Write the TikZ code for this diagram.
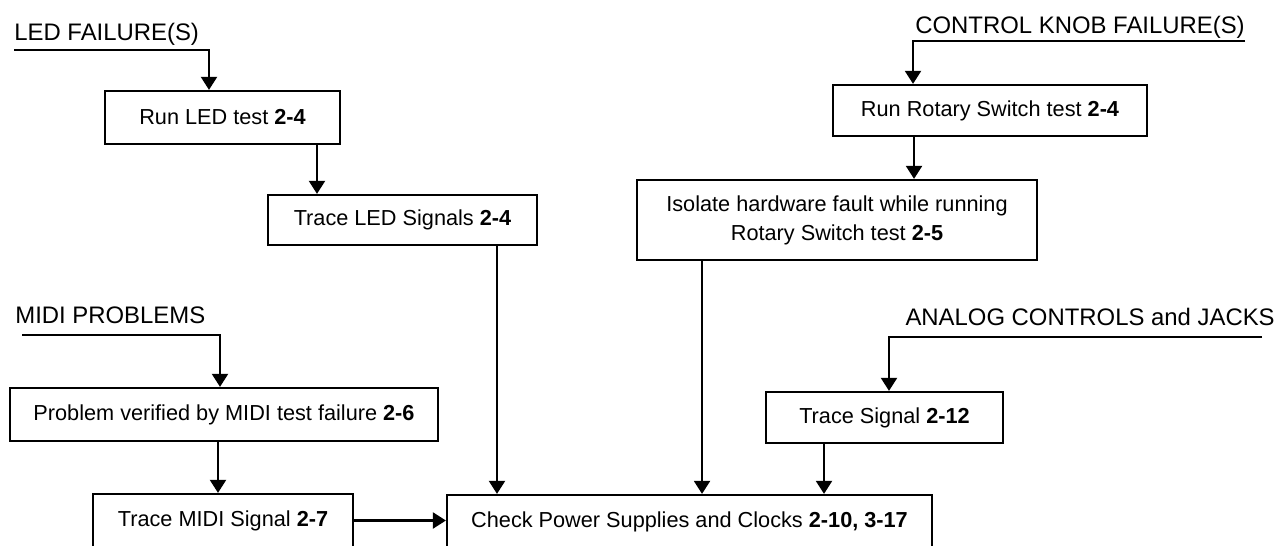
\documentclass[tikz,border=0pt]{standalone}
\usepackage{fontspec}
\setmainfont{Liberation Sans}
\usetikzlibrary{arrows.meta}
\begin{document}
\begin{tikzpicture}[x=0.02cm,y=-0.02cm,
  box/.style={draw,line width=1.3pt,inner sep=0pt,font=\fontsize{12.35}{16.5}\selectfont,align=center},
  head/.style={inner sep=0pt,font=\fontsize{13.6}{16}\selectfont},
  arr/.style={line width=1.2pt,-{Triangle[width=0.32cm,length=0.26cm]}},
  lin/.style={line width=1.2pt}]
\useasboundingbox (0,0) rectangle (1283,545);
\clip (0,0) rectangle (1283,545);

% headings
\node[head,anchor=base west] (ledt) at (14,40) {LED FAILURE(S)};
\node[head,anchor=base east] (ctrlt) at (1245,33) {CONTROL KNOB FAILURE(S)};
\node[head,anchor=base west] (midit) at (15,323) {MIDI PROBLEMS};
\node[head,anchor=base east] (anat) at (1275,325) {ANALOG CONTROLS and JACKS};

\coordinate (ledl) at (14,50);
\coordinate (ctrlr) at (1245,41);
\coordinate (midil) at (22,335);
\coordinate (anar) at (1262,337);

% boxes
\node[box,minimum width=4.7cm,minimum height=1.06cm] (runled) at (222.5,117.5) {Run LED test \textbf{2-4}};
\node[box,minimum width=5.38cm,minimum height=1.0cm] (traceled) at (402.5,220) {Trace LED Signals \textbf{2-4}};
\node[box,minimum width=6.28cm,minimum height=1.02cm] (runrot) at (990,110.5) {Run Rotary Switch test \textbf{2-4}};
\node[box,minimum width=8.0cm,minimum height=1.6cm] (isolate) at (837,220) {Isolate hardware fault while running\\Rotary Switch test \textbf{2-5}};
\node[box,minimum width=8.56cm,minimum height=1.06cm] (problem) at (224,414.5) {Problem verified by MIDI test failure \textbf{2-6}};
\node[box,minimum width=5.2cm,minimum height=1.06cm] (tracemidi) at (223,520.5) {Trace MIDI Signal \textbf{2-7}};
\node[box,minimum width=4.74cm,minimum height=1.02cm] (tracesig) at (884.5,417.5) {Trace Signal \textbf{2-12}};
\node[box,minimum width=9.7cm,minimum height=1.06cm] (check) at (689.5,521.5) {Check Power Supplies and Clocks \textbf{2-10, 3-17}};

% connectors
\draw[arr] (ledl) -| ([xshift=-0.27cm]runled.north);
\draw[arr] ([xshift=1.89cm]runled.south) -- ([xshift=1.89cm]runled.south |- traceled.north);
\draw[arr] ([xshift=1.89cm]traceled.south) -- ([xshift=1.89cm]traceled.south |- check.north);

\draw[arr] (ctrlr) -| ([xshift=-1.54cm]runrot.north);
\draw[arr] ([xshift=-1.52cm]runrot.south) -- ([xshift=-1.52cm]runrot.south |- isolate.north);
\draw[arr] ([xshift=-2.7cm]isolate.south) -- ([xshift=-2.7cm]isolate.south |- check.north);

\draw[arr] (midil) -| ([xshift=-0.08cm]problem.north);
\draw[arr] ([xshift=-0.12cm]problem.south) -- ([xshift=-0.12cm]problem.south |- tracemidi.north);
\draw[arr] (tracemidi.east) -- (tracemidi.east -| check.west);

\draw[arr] (anar) -| ([xshift=0.09cm]tracesig.north);
\draw[arr] ([xshift=-1.21cm]tracesig.south) -- ([xshift=-1.21cm]tracesig.south |- check.north);
\end{tikzpicture}
\end{document}
